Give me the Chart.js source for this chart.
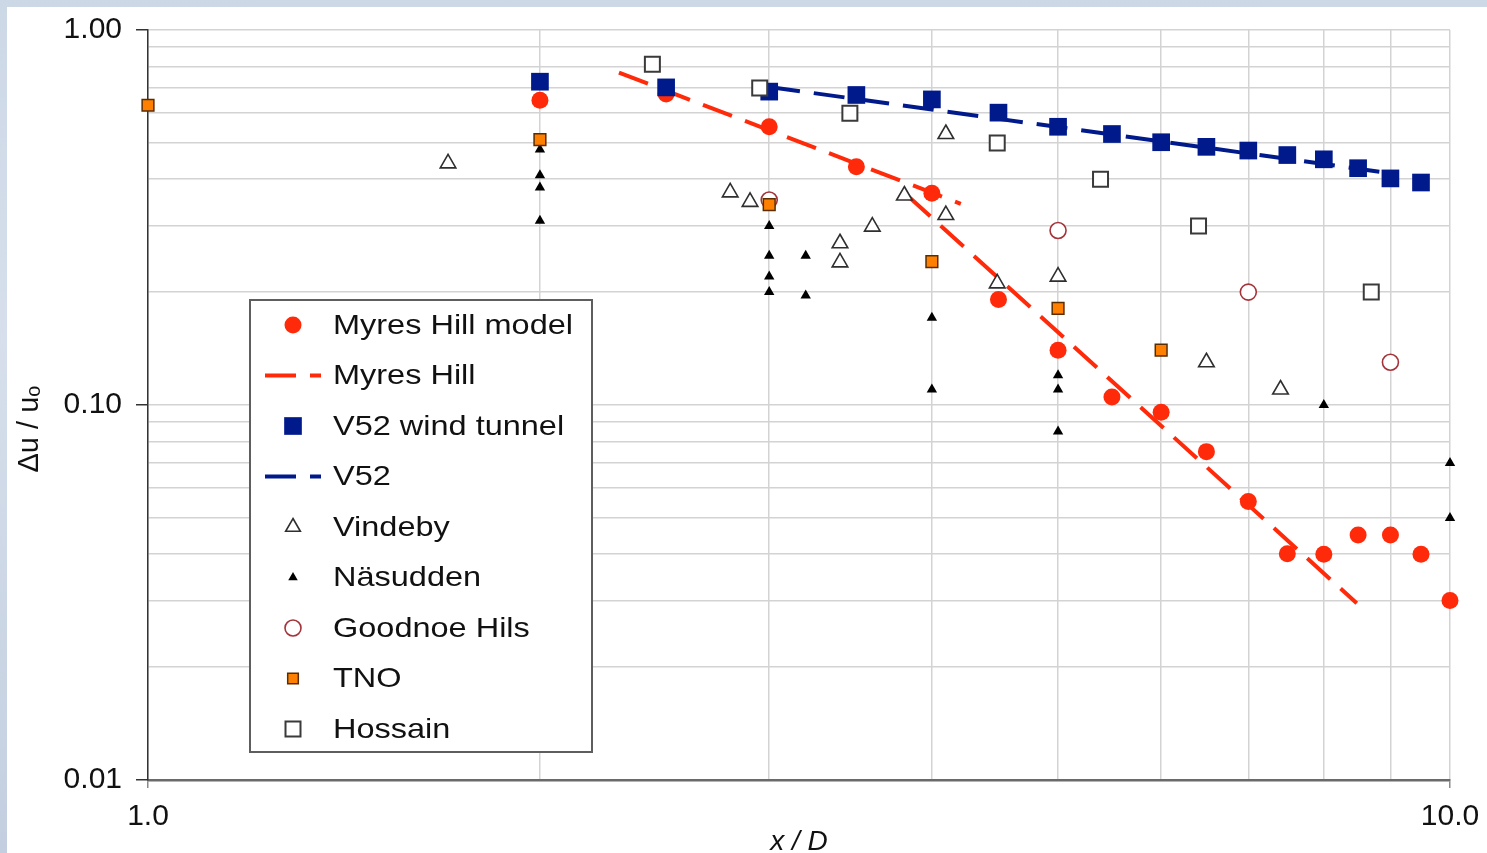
<!DOCTYPE html>
<html>
<head>
<meta charset="utf-8">
<script src="https://cdn.jsdelivr.net/npm/chart.js@4.4.1/dist/chart.umd.min.js"></script>
<style>
  html, body { margin: 0; padding: 0; width: 1487px; height: 853px; overflow: hidden; }
  body { position: relative; background: linear-gradient(180deg, #cdd8e7 0%, #d6dfeb 40%, #c3cfe0 100%); }
  #panel { position: absolute; left: 7px; top: 7px; width: 1480px; height: 846px; background: #ffffff; }
  #c { position: absolute; left: 0; top: 0; }
</style>
</head>
<body>
<div id="panel"></div>
<canvas id="c" width="1487" height="853"></canvas>
<script>
// ---------------- data ----------------
const xTickLabels = { 1: '1.0', 10: '10.0' };
const yTickLabels = { 1: '1.00', 0.1: '0.10', 0.01: '0.01' };

const myresModelX = [2.0, 2.5, 3.0, 3.5, 4.0, 4.5, 5.0, 5.5, 6.0, 6.5, 7.0, 7.5, 8.0, 8.5, 9.0, 9.5, 10.0];
const myresModelY = [0.65, 0.675, 0.552, 0.432, 0.367, 0.191, 0.140, 0.105, 0.0956, 0.0751, 0.0553, 0.0401, 0.040, 0.045, 0.045, 0.040, 0.0301];

// dashed Myres Hill fit: two straight pieces, separated by a gap (null)
const myresLineX = [2.30, 4.21, 4.0, 3.83, 8.48];
const myresLineY = [0.77, 0.344, null, 0.362, 0.0296];

const v52TunnelX = [2.0, 2.5, 3.0, 3.5, 4.0, 4.5, 5.0, 5.5, 6.0, 6.5, 7.0, 7.5, 8.0, 8.5, 9.0, 9.5];
const v52TunnelY = [0.728, 0.703, 0.685, 0.671, 0.653, 0.602, 0.552, 0.528, 0.502, 0.488, 0.477, 0.464, 0.452, 0.428, 0.402, 0.392];

const v52LineX = [3.0, 9.0];
const v52LineY = [0.705, 0.415];

const vindebyX = [1.70, 2.80, 2.90, 3.40, 3.40, 3.60, 3.81, 4.10, 4.10, 4.49, 5.0, 6.5, 7.41];
const vindebyY = [0.441, 0.369, 0.348, 0.270, 0.240, 0.299, 0.362, 0.528, 0.321, 0.211, 0.22, 0.13, 0.11];

const nasuddenX = [2, 2, 2, 2, 3, 3, 3, 3, 3.2, 3.2, 4, 4, 5, 5, 5, 8, 10, 10];
const nasuddenY = [0.48, 0.41, 0.38, 0.31, 0.30, 0.25, 0.22, 0.20, 0.25, 0.196, 0.171, 0.110, 0.120, 0.110, 0.085, 0.10, 0.07, 0.05];

const goodnoeX = [3, 5, 7, 9];
const goodnoeY = [0.352, 0.292, 0.20, 0.13];

const tnoX = [1, 2, 3, 4, 5, 6];
const tnoY = [0.63, 0.51, 0.342, 0.241, 0.181, 0.14];

const hossainX = [2.44, 2.95, 3.46, 4.49, 5.39, 6.41, 8.70];
const hossainY = [0.81, 0.70, 0.60, 0.50, 0.40, 0.30, 0.20];

// ---------------- helpers ----------------
const zip = (xs, ys) => xs.map((x, i) => ({ x: x, y: ys[i] }));
const FONT = '"Liberation Sans", Arial, Helvetica, sans-serif';
const RED = '#ff2a0a';
const NAVY = '#001a8c';

function isPow10(v) { const l = Math.log10(v); return Math.abs(l - Math.round(l)) < 1e-6; }
function isWholeStep(v) {
  const e = Math.floor(Math.log10(v) + 1e-9);
  const m = v / Math.pow(10, e);
  return Math.abs(m - Math.round(m)) < 1e-6;
}
function lookupLabel(table, v) {
  for (const k in table) { if (Math.abs(Number(k) - v) < 1e-9 * Math.max(1, v)) return table[k]; }
  return '';
}

// ---------------- legend drawn inside the plot ----------------
function drawMarker(ctx, style, r, x, y, fill, stroke, bw) {
  ctx.beginPath();
  if (style === 'circle') {
    ctx.arc(x, y, r, 0, Math.PI * 2);
  } else if (style === 'rect') {
    const s = r * Math.SQRT1_2;
    ctx.rect(x - s, y - s, 2 * s, 2 * s);
  } else if (style === 'triangle') {
    let a = 0;
    ctx.moveTo(x + Math.sin(a) * r, y - Math.cos(a) * r);
    a += 2 * Math.PI / 3;
    ctx.lineTo(x + Math.sin(a) * r, y - Math.cos(a) * r);
    a += 2 * Math.PI / 3;
    ctx.lineTo(x + Math.sin(a) * r, y - Math.cos(a) * r);
  }
  ctx.closePath();
  ctx.fillStyle = fill;
  ctx.fill();
  if (bw > 0) { ctx.lineWidth = bw; ctx.strokeStyle = stroke; ctx.stroke(); }
}

const boxLegend = {
  id: 'boxLegend',
  afterDraw(chart, args, o) {
    const ctx = chart.ctx;
    ctx.save();
    ctx.fillStyle = '#ffffff';
    ctx.fillRect(o.left, o.top, o.right - o.left, o.bottom - o.top);
    ctx.lineWidth = 2;
    ctx.strokeStyle = '#5e5e5e';
    ctx.strokeRect(o.left, o.top, o.right - o.left, o.bottom - o.top);
    const items = [...chart.data.datasets].sort((a, b) => a.legendIndex - b.legendIndex);
    items.forEach((ds, i) => {
      const y = o.firstY + i * o.step;
      if (ds.showLine) {
        ctx.save();
        ctx.beginPath();
        ctx.setLineDash(ds.borderDash || []);
        ctx.lineWidth = ds.borderWidth;
        ctx.strokeStyle = ds.borderColor;
        ctx.moveTo(o.lineFrom, y);
        ctx.lineTo(o.lineTo, y);
        ctx.stroke();
        ctx.restore();
      } else {
        drawMarker(ctx, ds.pointStyle, ds.legendRadius || ds.pointRadius, o.markerX, y,
          ds.pointBackgroundColor, ds.pointBorderColor, ds.pointBorderWidth);
      }
      ctx.save();
      ctx.translate(o.textX, y);
      ctx.scale(o.stretch, 1);
      ctx.font = o.fontSize + 'px ' + FONT;
      ctx.fillStyle = '#111111';
      ctx.textAlign = 'left';
      ctx.textBaseline = 'middle';
      ctx.fillText(ds.label, 0, 1);
      ctx.restore();
    });
    ctx.restore();
  }
};

// ---------------- datasets ----------------
const datasets = [
  { label: 'Myres Hill model', data: zip(myresModelX, myresModelY), pointStyle: 'circle', pointRadius: 8.5,
    pointBackgroundColor: RED, pointBorderColor: RED, pointBorderWidth: 0 },
  { label: 'Myres Hill', data: zip(myresLineX, myresLineY), showLine: true, pointRadius: 0,
    borderColor: RED, borderWidth: 4, borderDash: [31, 14], borderCapStyle: 'butt', spanGaps: false },
  { label: 'V52 wind tunnel', data: zip(v52TunnelX, v52TunnelY), pointStyle: 'rect', pointRadius: 12.5,
    pointBackgroundColor: NAVY, pointBorderColor: NAVY, pointBorderWidth: 0 },
  { label: 'V52', data: zip(v52LineX, v52LineY), showLine: true, pointRadius: 0,
    borderColor: NAVY, borderWidth: 4, borderDash: [31, 14], borderCapStyle: 'butt' },
  { label: 'Vindeby', data: zip(vindebyX, vindebyY), pointStyle: 'triangle', pointRadius: 9,
    pointBackgroundColor: '#ffffff', pointBorderColor: '#2f2f2f', pointBorderWidth: 1.6, legendRadius: 8.5 },
  { label: 'Näsudden', data: zip(nasuddenX, nasuddenY), pointStyle: 'triangle', pointRadius: 6,
    pointBackgroundColor: '#000000', pointBorderColor: '#000000', pointBorderWidth: 0, legendRadius: 5.5 },
  { label: 'Goodnoe Hils', data: zip(goodnoeX, goodnoeY), pointStyle: 'circle', pointRadius: 8,
    pointBackgroundColor: '#ffffff', pointBorderColor: '#a3343a', pointBorderWidth: 1.6 },
  { label: 'TNO', data: zip(tnoX, tnoY), pointStyle: 'rect', pointRadius: 8.3,
    pointBackgroundColor: '#ff8000', pointBorderColor: '#5a2d00', pointBorderWidth: 1.5, legendRadius: 7.5 },
  { label: 'Hossain', data: zip(hossainX, hossainY), pointStyle: 'rect', pointRadius: 10.6,
    pointBackgroundColor: '#ffffff', pointBorderColor: '#3a3a3a', pointBorderWidth: 2 }
];
datasets.forEach((d, i) => { d.legendIndex = i; d.order = 20 - i; d.clip = false; if (!d.showLine) { d.showLine = false; } });

// ---------------- chart ----------------
new Chart(document.getElementById('c'), {
  type: 'scatter',
  data: { datasets: datasets },
  plugins: [boxLegend],
  options: {
    responsive: false,
    devicePixelRatio: 1,
    animation: false,
    events: [],
    layout: { padding: { left: 0, top: 30, right: 37, bottom: 0 } },
    plugins: {
      legend: { display: false },
      tooltip: { enabled: false },
      boxLegend: { left: 250, top: 300, right: 592, bottom: 752, firstY: 325, step: 50.5,
        markerX: 293, lineFrom: 265, lineTo: 321, textX: 333, fontSize: 28, stretch: 1.16 }
    },
    scales: {
      x: {
        type: 'logarithmic', min: 1, max: 10, position: 'bottom',
        afterFit: s => { s.height = 73; s.paddingLeft = 0; s.paddingRight = 0; },
        border: { color: '#6a6a6a', width: 2.5 },
        grid: {
          lineWidth: 1.5,
          color: c => (c.tick && isWholeStep(c.tick.value)) ? '#d3d3d3' : 'rgba(0,0,0,0)',
          tickLength: 8,
          tickColor: c => (c.tick && isPow10(c.tick.value)) ? '#8a8a8a' : 'rgba(0,0,0,0)'
        },
        ticks: {
          autoSkip: false, maxRotation: 0, minRotation: 0, padding: 11, color: '#111111',
          font: { family: FONT, size: 30 },
          callback: v => lookupLabel(xTickLabels, v)
        },
        title: { display: true, text: 'x / D', color: '#111111', padding: { top: 0, bottom: 0 },
          font: { family: FONT, size: 28, style: 'italic', lineHeight: 0.75 } }
      },
      y: {
        type: 'logarithmic', min: 0.01, max: 1, position: 'left',
        afterFit: s => { s.width = 148; s.paddingTop = 0; s.paddingBottom = 0; },
        border: { color: '#333333', width: 1.5 },
        grid: {
          lineWidth: 1.5,
          color: c => (c.tick && isWholeStep(c.tick.value)) ? '#d3d3d3' : 'rgba(0,0,0,0)',
          tickLength: 12,
          tickColor: c => (c.tick && isPow10(c.tick.value)) ? '#333333' : 'rgba(0,0,0,0)'
        },
        ticks: {
          autoSkip: false, padding: 14, color: '#111111',
          font: { family: FONT, size: 30 },
          callback: v => lookupLabel(yTickLabels, v)
        },
        title: { display: true, text: 'Δu / uₒ      ', color: '#111111', padding: { top: 13, bottom: 0 },
          font: { family: FONT, size: 29 } }
      }
    }
  }
});
</script>
</body>
</html>
